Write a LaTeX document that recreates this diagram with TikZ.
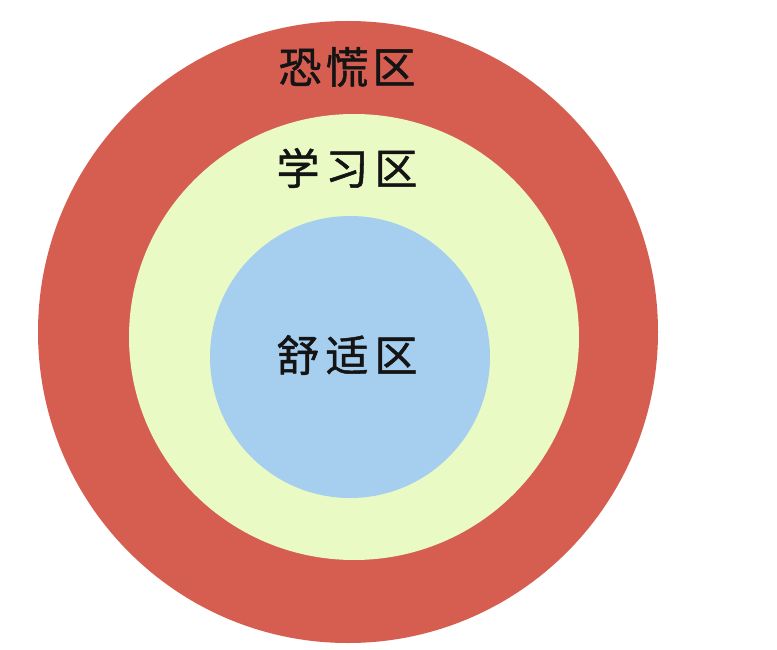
\documentclass[tikz,border=0pt]{standalone}
\usepackage{fontspec}
\newfontfamily\cjk{Noto Sans CJK SC}[FakeBold=1.2]
\definecolor{panicred}{RGB}{214,94,80}
\definecolor{learngreen}{RGB}{234,250,196}
\definecolor{comfortblue}{RGB}{166,206,238}
\definecolor{labeltext}{RGB}{20,20,20}
\begin{document}
\begin{tikzpicture}[x=1pt,y=-1pt,
  zonelabel/.style={font=\cjk\fontsize{43}{43}\selectfont, text=labeltext, inner sep=0pt}]
\useasboundingbox (0,0) rectangle (777,650);
\fill[white] (0,0) rectangle (777,650);
\fill[panicred] (348,332) ellipse [x radius=310, y radius=311];
\fill[learngreen] (354,337) ellipse [x radius=225, y radius=223];
\fill[comfortblue] (350,357) ellipse [x radius=140, y radius=141];
\node[zonelabel] (panic) at (347,67) {恐\hspace{4pt}慌\hspace{4pt}区};
\node[zonelabel] (learn) at (347,168) {学\hspace{6pt}习\hspace{6pt}区};
\node[zonelabel] (comfort) at (347,355) {舒\hspace{6pt}适\hspace{6pt}区};
\end{tikzpicture}
\end{document}
